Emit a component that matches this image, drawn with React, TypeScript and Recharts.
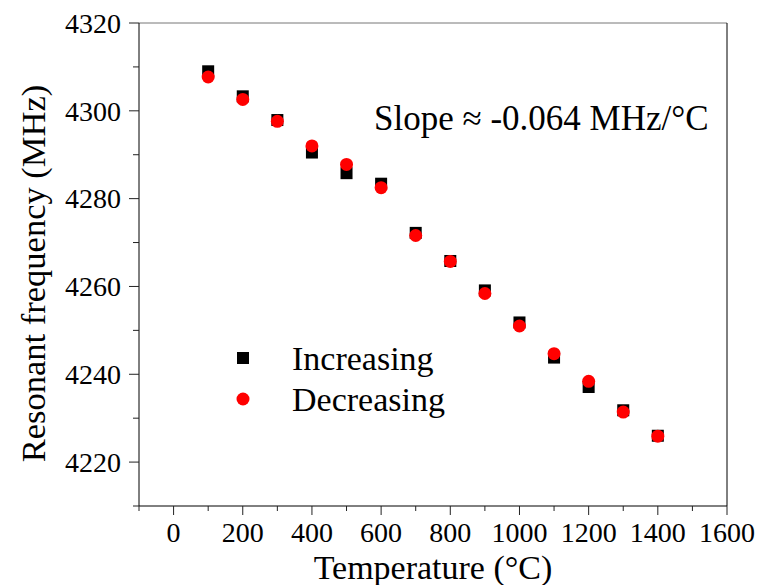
import { ScatterChart, Scatter, XAxis, YAxis, ReferenceLine, Legend } from "recharts";

const FONT = '"Liberation Serif", "Times New Roman", serif';

const temperatures = [100, 200, 300, 400, 500, 600, 700, 800, 900, 1000, 1100, 1200, 1300, 1400];
const increasing = [4309.0, 4303.3, 4297.9, 4290.5, 4285.8, 4283.4, 4272.2, 4265.8, 4259.1, 4251.8, 4243.8, 4237.1, 4231.8, 4226.0];
const decreasing = [4307.7, 4302.6, 4297.6, 4292.0, 4287.8, 4282.5, 4271.6, 4265.7, 4258.4, 4251.0, 4244.7, 4238.4, 4231.4, 4225.9];

const xTicks = [-100, 0, 100, 200, 300, 400, 500, 600, 700, 800, 900, 1000, 1100, 1200, 1300, 1400, 1500, 1600];
const yTicks = [4210, 4220, 4230, 4240, 4250, 4260, 4270, 4280, 4290, 4300, 4310, 4320];

const incData = temperatures.map((t, i) => ({ t, f: increasing[i] }));
const decData = temperatures.map((t, i) => ({ t, f: decreasing[i] }));

const serif = (size: number) => ({ fontFamily: FONT, fontSize: size });

const SquareDot = (p: any) => <rect x={p.cx - 6} y={p.cy - 6} width={12} height={12} fill="#000" />;
const RoundDot = (p: any) => <circle cx={p.cx} cy={p.cy} r={6.5} fill="#ff0000" />;

function XTick({ x, y, payload }: any) {
  const major = payload.value % 200 === 0;
  return (
    <g>
      <line x1={x} x2={x} y1={y} y2={y + (major ? 9 : 5)} stroke="#222" />
      {major && (
        <text x={x} y={y + 36} textAnchor="middle" style={serif(28)} fill="#000">
          {payload.value}
        </text>
      )}
    </g>
  );
}

function YTick({ x, y, payload }: any) {
  const major = payload.value % 20 === 0;
  return (
    <g>
      <line x1={x} x2={x - (major ? 10 : 6)} y1={y} y2={y} stroke="#222" />
      {major && (
        <text x={x - 18} y={y} dy="0.35em" textAnchor="end" style={serif(28)} fill="#000">
          {payload.value}
        </text>
      )}
    </g>
  );
}

const xLabel = (props: any) => {
  const vb = props.viewBox;
  return (
    <text x={vb.x + vb.width / 2} y={vb.y + 72.5} textAnchor="middle" style={serif(34)} fill="#000">
      Temperature (°C)
    </text>
  );
};

const yLabel = (props: any) => {
  const vb = props.viewBox;
  const cx = 45;
  const cy = vb.y + vb.height / 2 + 9;
  return (
    <text x={cx} y={cy} transform={`rotate(-90 ${cx} ${cy})`} textAnchor="middle" style={serif(34.5)} fill="#000">
      Resonant frequency (MHz)
    </text>
  );
};

function LegendBox() {
  return (
    <svg width={250} height={90} style={{ display: "block" }}>
      <rect x={6} y={14} width={12} height={12} fill="#000" />
      <text x={61} y={32} style={serif(34)} fill="#000">Increasing</text>
      <circle cx={12} cy={61} r={6.5} fill="#ff0000" />
      <text x={61} y={73} style={serif(34)} fill="#000">Decreasing</text>
    </svg>
  );
}

export default function App() {
  return (
    <div style={{ position: "absolute", left: 0, top: 0, width: 767, height: 585, background: "#fff" }}>
      <ScatterChart width={767} height={585} margin={{ top: 23, right: 40, left: 0, bottom: 0 }}>
        <XAxis
          type="number"
          dataKey="t"
          domain={[-100, 1600]}
          ticks={xTicks}
          interval={0}
          tickSize={0}
          tickMargin={0}
          tick={<XTick />}
          tickLine={false}
          height={79}
          axisLine={{ stroke: "#000" }}
          label={xLabel}
        />
        <YAxis
          type="number"
          dataKey="f"
          domain={[4210, 4320]}
          ticks={yTicks}
          interval={0}
          tickSize={0}
          tickMargin={0}
          tick={<YTick />}
          tickLine={false}
          width={139}
          axisLine={{ stroke: "#000" }}
          label={yLabel}
        />
        <ReferenceLine y={4320} stroke="#777" />
        <ReferenceLine x={1600} stroke="#000" />
        <Legend layout="vertical" align="center" verticalAlign="middle" content={<LegendBox />} wrapperStyle={{ left: 231, top: 338, width: 250 }} />
        <Scatter name="Increasing" data={incData} shape={SquareDot} isAnimationActive={false} />
        <Scatter name="Decreasing" data={decData} shape={RoundDot} isAnimationActive={false} />
      </ScatterChart>
      <div style={{ position: "absolute", left: 374, top: 99, fontSize: 35, fontFamily: FONT, lineHeight: "40px", whiteSpace: "nowrap" }}>
        Slope ≈ -0.064 MHz/°C
      </div>
    </div>
  );
}
